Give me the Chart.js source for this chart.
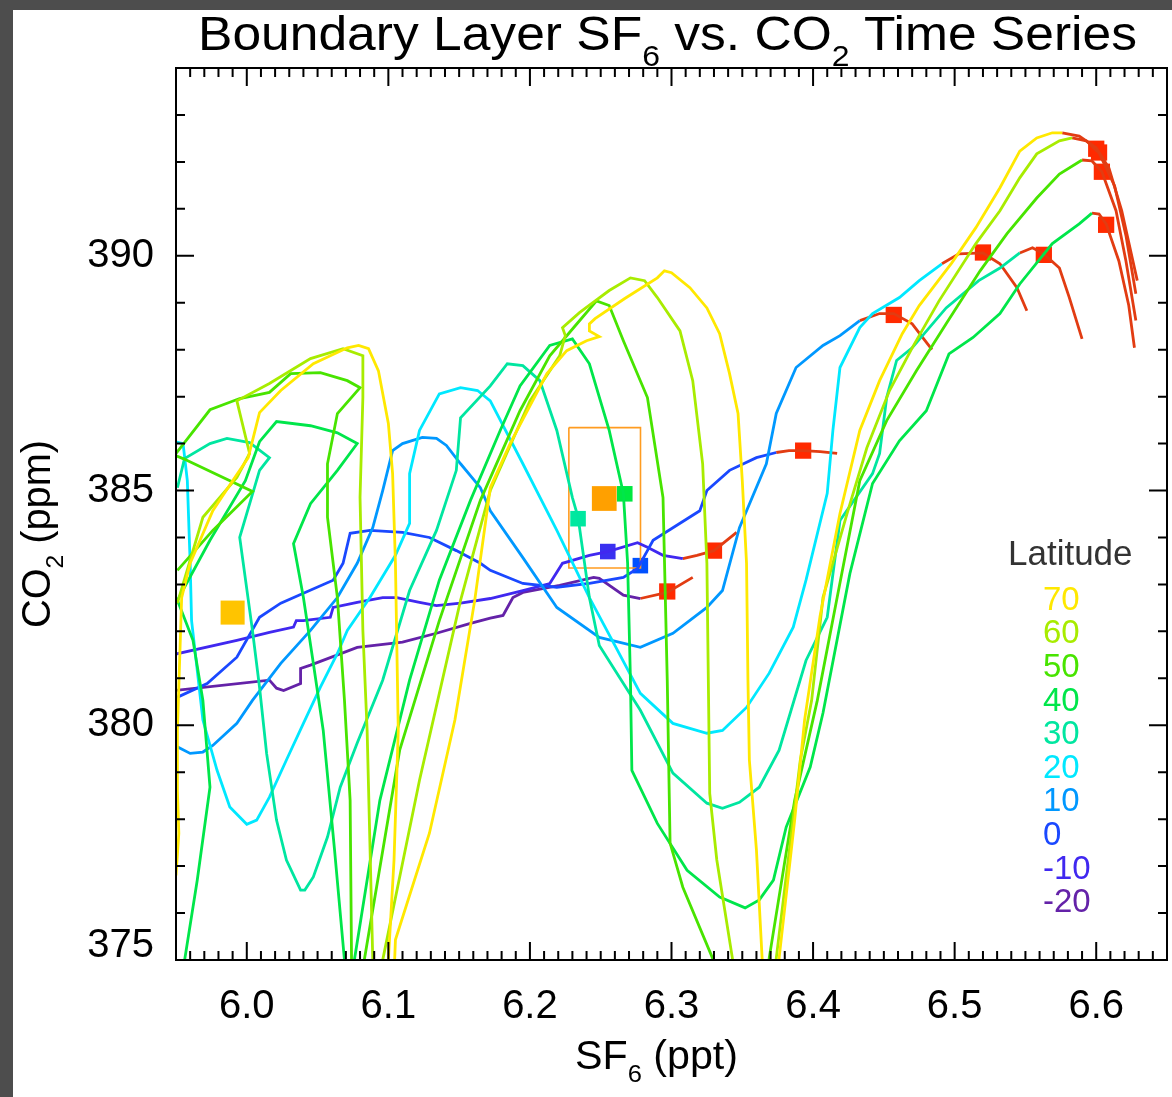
<!DOCTYPE html>
<html>
<head>
<meta charset="utf-8">
<script src="https://cdn.jsdelivr.net/npm/chart.js@4.4.1/dist/chart.umd.min.js"></script>
<style>
  html, body { margin: 0; padding: 0; background: #fff; overflow: hidden; }
  #caja { width: 1172px; height: 1097px; }
  canvas { display: block; }
</style>
</head>
<body>
<div id="caja"><canvas id="grafica" width="1172" height="1097"></canvas></div>
<script>
// ejes
const xTicks = [6.0, 6.1, 6.2, 6.3, 6.4, 6.5, 6.6];
const yTicks = [375, 380, 385, 390];
const latLabels = ['70', '60', '50', '40', '30', '20', '10', '0', '-10', '-20'];
const latColors = ['#ffe800', '#a8ec00', '#48e400', '#00e64a', '#00e6a0', '#00e8ff', '#0098ff', '#1a48ff', '#4028f0', '#6422a8'];

// series SF6 (ppt), CO2 (ppm) por latitud
const lat70 = [[5.950,376.8],[5.952,377.7],[5.951,378.6],[5.951,379.89],[5.954,382.72],[5.960,383.45],[5.976,384.57],[5.990,385.21],[6.001,385.70],[6.009,386.66],[6.024,387.13],[6.047,387.70],[6.071,388.04],[6.079,388.09],[6.086,388.02],[6.093,387.55],[6.100,386.43],[6.103,385.36],[6.105,383.45],[6.107,379.89],[6.104,377.13],[6.100,375.00],[6.100,373.9],[6.103,373.9],[6.105,375.43],[6.129,377.70],[6.147,380.11],[6.161,382.66],[6.172,385.06],[6.186,386.00],[6.212,387.49],[6.226,387.98],[6.240,388.19],[6.249,388.28],[6.242,388.40],[6.242,388.55],[6.246,388.66],[6.267,389.09],[6.290,389.53],[6.295,389.68],[6.300,389.64],[6.313,389.32],[6.325,388.89],[6.334,388.34],[6.341,387.49],[6.347,386.64],[6.350,385.21],[6.353,383.45],[6.354,380.96],[6.355,379.26],[6.360,377.34],[6.364,375.04],[6.367,373.9],[6.374,373.9],[6.376,375.04],[6.387,377.98],[6.394,380.11],[6.405,382.34],[6.419,384.51],[6.433,386.28],[6.447,387.34],[6.463,388.34],[6.475,388.94],[6.498,389.85],[6.515,390.60],[6.532,391.45],[6.546,392.23],[6.558,392.51],[6.569,392.62],[6.576,392.62]];
const lat70End = [[6.576,392.62],[6.588,392.55],[6.600,392.30],[6.609,391.87],[6.618,390.96],[6.629,389.47]];

const lat60 = [[5.951,382.60],[5.969,384.43],[5.993,385.28],[6.002,385.79],[5.993,386.91],[6.016,387.28],[6.045,387.81],[6.068,388.02],[6.082,387.87],[6.082,386.98],[6.080,384.85],[6.082,382.02],[6.085,379.89],[6.089,375.0],[6.089,373.9],[6.094,373.9],[6.096,375.0],[6.122,378.83],[6.151,382.66],[6.172,385.0],[6.200,386.91],[6.221,387.87],[6.225,388.30],[6.223,388.47],[6.235,388.79],[6.256,389.26],[6.271,389.53],[6.281,389.47],[6.290,389.11],[6.306,388.40],[6.315,387.34],[6.322,385.57],[6.325,383.45],[6.327,378.55],[6.332,377.13],[6.343,375.04],[6.346,373.9],[6.371,373.9],[6.374,375.04],[6.391,379.26],[6.399,380.53],[6.407,382.72],[6.424,384.51],[6.438,385.91],[6.454,387.13],[6.470,388.04],[6.489,389.04],[6.515,390.26],[6.532,390.96],[6.546,391.66],[6.558,392.17],[6.574,392.45],[6.583,392.51]];
const lat60End = [[6.583,392.51],[6.593,392.45],[6.602,392.19],[6.613,391.49],[6.621,390.43],[6.628,389.19]];

const lat50 = [[5.951,383.30],[5.976,384.15],[6.004,384.98],[5.955,385.68],[5.949,385.75],[5.974,386.72],[5.995,386.96],[6.016,387.09],[6.031,387.49],[6.052,387.51],[6.071,387.34],[6.080,387.19],[6.064,386.64],[6.057,385.57],[6.057,384.43],[6.064,382.72],[6.069,380.53],[6.073,378.40],[6.074,375.0],[6.075,373.9],[6.080,373.9],[6.083,375.0],[6.108,379.47],[6.136,382.23],[6.165,384.79],[6.193,386.70],[6.214,387.87],[6.232,388.51],[6.247,389.04],[6.256,388.94],[6.266,388.19],[6.283,386.98],[6.294,384.85],[6.297,380.96],[6.299,377.49],[6.308,376.55],[6.329,375.04],[6.334,373.9],[6.365,373.9],[6.369,375.04],[6.387,378.40],[6.403,380.53],[6.417,382.72],[6.433,385.21],[6.452,386.49],[6.473,387.55],[6.494,388.55],[6.518,389.68],[6.537,390.47],[6.558,391.23],[6.574,391.74],[6.590,392.04]];
const lat50End = [[6.590,392.04],[6.597,392.02],[6.604,391.79],[6.614,390.96],[6.621,389.89],[6.628,388.62]];

const lat40 = [[5.954,374.6],[5.965,376.70],[5.974,378.68],[5.969,380.53],[5.962,381.81],[5.951,382.66],[5.974,383.94],[5.999,385.21],[6.009,386.04],[6.021,386.47],[6.045,386.38],[6.064,386.23],[6.078,386.00],[6.064,385.43],[6.045,384.72],[6.033,383.87],[6.040,382.72],[6.047,381.32],[6.054,379.89],[6.062,377.34],[6.069,375.0],[6.071,373.9],[6.074,373.9],[6.076,375.0],[6.094,378.40],[6.115,380.96],[6.136,383.09],[6.158,384.79],[6.179,386.28],[6.193,387.23],[6.214,388.09],[6.230,388.23],[6.242,387.70],[6.256,386.28],[6.266,384.94],[6.269,383.45],[6.271,380.96],[6.272,379.04],[6.290,377.91],[6.311,376.91],[6.334,376.34],[6.352,376.11],[6.362,376.28],[6.372,376.70],[6.381,377.83],[6.398,379.11],[6.407,380.26],[6.426,383.23],[6.442,385.15],[6.461,386.06],[6.480,386.70],[6.496,387.91],[6.513,388.26],[6.532,388.77],[6.546,389.40],[6.569,390.26],[6.588,390.68],[6.597,390.91]];
const lat40End = [[6.597,390.91],[6.602,390.89],[6.607,390.68],[6.616,389.89],[6.623,388.94],[6.627,388.04]];

const lat30 = [[5.951,385.06],[5.956,385.68],[5.974,386.00],[5.986,386.11],[6.002,386.02],[6.016,385.70],[6.009,385.43],[5.995,384.00],[6.004,382.02],[6.009,380.81],[6.014,379.40],[6.021,377.98],[6.028,377.13],[6.038,376.49],[6.041,376.49],[6.047,376.77],[6.057,377.62],[6.066,378.68],[6.078,379.62],[6.096,380.96],[6.115,382.87],[6.134,384.15],[6.148,385.43],[6.151,386.55],[6.172,387.23],[6.184,387.70],[6.195,387.66],[6.207,387.34],[6.219,386.28],[6.230,384.85],[6.234,384.43],[6.242,382.72],[6.249,381.70],[6.278,380.32],[6.301,378.98],[6.325,378.34],[6.336,378.23],[6.348,378.36],[6.362,378.68],[6.376,379.47],[6.395,381.38],[6.410,382.30],[6.419,384.36],[6.442,385.36],[6.447,385.79],[6.452,386.98],[6.459,387.77],[6.470,388.04],[6.494,388.89],[6.517,389.47],[6.532,389.74],[6.546,390.06]];
const lat30End = [[6.546,390.06],[6.555,390.17],[6.563,390.04],[6.574,389.74],[6.581,389.11],[6.590,388.23]];

const lat20 = [[5.949,386.04],[5.955,386.00],[5.958,385.21],[5.960,383.45],[5.961,382.23],[5.965,381.17],[5.969,380.11],[5.979,379.04],[5.988,378.26],[6.000,377.89],[6.007,377.98],[6.016,378.47],[6.028,379.26],[6.040,380.04],[6.052,380.81],[6.064,381.53],[6.071,382.02],[6.087,382.72],[6.105,383.62],[6.115,384.30],[6.115,385.36],[6.122,386.28],[6.136,387.06],[6.151,387.19],[6.163,387.13],[6.172,386.91],[6.195,385.57],[6.219,384.15],[6.242,382.72],[6.260,381.70],[6.278,380.68],[6.301,380.04],[6.325,379.83],[6.336,379.89],[6.353,380.38],[6.369,381.11],[6.386,382.09],[6.395,383.09],[6.410,384.94],[6.414,386.28],[6.419,387.62],[6.433,388.47],[6.442,388.77],[6.461,389.11],[6.475,389.47],[6.491,389.83]];
const lat20End = [[6.491,389.83],[6.503,390.04],[6.520,390.06],[6.532,389.83],[6.544,389.32],[6.551,388.83]];

const lat10 = [[5.949,379.57],[5.960,379.40],[5.969,379.43],[5.976,379.57],[5.993,380.04],[6.004,380.53],[6.024,381.32],[6.045,382.02],[6.064,382.72],[6.078,383.45],[6.089,384.21],[6.096,385.00],[6.103,385.85],[6.110,386.00],[6.124,386.13],[6.134,386.11],[6.141,385.96],[6.151,385.57],[6.165,385.06],[6.172,384.57],[6.195,383.57],[6.219,382.51],[6.249,381.87],[6.278,381.66],[6.301,381.96],[6.325,382.51],[6.336,382.87],[6.348,384.21],[6.367,385.57],[6.374,386.64],[6.388,387.62],[6.407,388.09],[6.419,388.30],[6.433,388.62]];
const lat10End = [[6.433,388.62],[6.447,388.77],[6.457,388.77],[6.470,388.55],[6.484,388.00]];

const lat0 = [[5.949,380.57],[5.972,380.89],[5.993,381.45],[6.009,382.30],[6.024,382.60],[6.040,382.81],[6.061,383.09],[6.068,383.45],[6.073,384.09],[6.087,384.15],[6.110,384.11],[6.129,384.00],[6.148,383.72],[6.165,383.45],[6.172,383.30],[6.195,383.02],[6.219,382.94],[6.242,383.02],[6.266,383.15],[6.276,383.34],[6.283,383.72],[6.287,383.94],[6.320,384.57],[6.325,385.00],[6.341,385.43],[6.360,385.70],[6.374,385.81]];
const lat0End = [[6.374,385.81],[6.383,385.85],[6.393,385.85],[6.405,385.83],[6.417,385.79]];

const latM10 = [[5.949,381.51],[5.993,381.81],[6.016,381.98],[6.033,382.09],[6.035,382.23],[6.040,382.23],[6.059,382.30],[6.061,382.51],[6.078,382.62],[6.096,382.72],[6.106,382.72],[6.122,382.62],[6.134,382.55],[6.151,382.60],[6.172,382.70],[6.195,382.87],[6.214,383.02],[6.223,383.45],[6.242,383.62],[6.255,383.70],[6.276,383.89],[6.283,383.79],[6.294,383.62],[6.308,383.55]];
const latM10End = [[6.308,383.55],[6.318,383.62],[6.330,383.72],[6.346,384.11]];

const latM20 = [[5.949,380.74],[6.016,380.96],[6.021,380.79],[6.026,380.74],[6.038,380.89],[6.038,381.21],[6.045,381.28],[6.078,381.66],[6.110,381.77],[6.134,381.96],[6.158,382.17],[6.172,382.28],[6.181,382.34],[6.188,382.72],[6.195,382.83],[6.221,382.98],[6.245,383.15],[6.249,383.13],[6.266,382.77],[6.278,382.70]];
const latM20End = [[6.278,382.70],[6.297,382.83],[6.315,383.15]];

// marcadores
const endSquares = [[6.600,392.28],[6.602,392.20],[6.604,391.79],[6.607,390.66],[6.563,390.02],[6.520,390.07],[6.457,388.74],[6.393,385.85],[6.330,383.72],[6.297,382.85]];
const boxSquares = [[6.234,384.40],[6.267,384.93],[6.255,383.70],[6.278,383.40]];
const boxSquareColors = ['#00e8a0', '#00e840', '#3a30f0', '#0050ff'];
const meanSquare = [[6.2525,384.83]];
const bigSquare = [[5.990,382.40]];
const boxCorners = [[6.2275,386.34],[6.2781,386.34],[6.2781,383.35],[6.2275,383.35],[6.2275,386.34]];

const curves = [lat70, lat60, lat50, lat40, lat30, lat20, lat10, lat0, latM10, latM20];
const curveEnds = [lat70End, lat60End, lat50End, lat40End, lat30End, lat20End, lat10End, lat0End, latM10End, latM20End];

const FONT = '"Liberation Sans", Arial, Helvetica, sans-serif';
const pts = arr => arr.map(p => ({ x: p[0], y: p[1] }));

let datasets = [];
curves.forEach((c, i) => {
  datasets.push({ data: pts(c), borderColor: latColors[i], borderWidth: 2.8, pointRadius: 0, showLine: true, tension: 0 });
});
curveEnds.forEach(c => {
  datasets.push({ data: pts(c), borderColor: '#e23c12', borderWidth: 2.8, pointRadius: 0, showLine: true, tension: 0 });
});
datasets.push({ data: pts(boxCorners), borderColor: '#ff9c20', borderWidth: 1.6, pointRadius: 0, showLine: true, tension: 0 });
datasets.push({ data: pts(boxSquares), pointStyle: 'rect', pointRadius: 11, backgroundColor: boxSquareColors, borderWidth: 0, showLine: false });
datasets.push({ data: pts(meanSquare), pointStyle: 'rect', pointRadius: 17.5, backgroundColor: '#ffa000', borderWidth: 0, showLine: false });
datasets.push({ data: pts(bigSquare), pointStyle: 'rect', pointRadius: 17, backgroundColor: '#ffc400', borderWidth: 0, showLine: false });
datasets.push({ data: pts(endSquares), pointStyle: 'rect', pointRadius: 11.5, backgroundColor: '#ff2a00', borderWidth: 0, showLine: false });

// texto con subindices
function richText(ctx, parts, x, y, size, width, rot) {
  const sub = size * 0.62, drop = size * 0.33;
  let w = 0;
  parts.forEach(p => { ctx.font = (p[1] ? sub : size) + 'px ' + FONT; w += ctx.measureText(p[0]).width; });
  const sx = width ? width / w : 1;
  ctx.save();
  ctx.translate(x, y);
  if (rot) ctx.rotate(rot);
  ctx.scale(sx, 1);
  ctx.textBaseline = 'alphabetic';
  ctx.textAlign = 'left';
  let cx = 0;
  parts.forEach(p => {
    ctx.font = (p[1] ? sub : size) + 'px ' + FONT;
    ctx.fillText(p[0], cx, p[1] ? drop : 0);
    cx += ctx.measureText(p[0]).width;
  });
  ctx.restore();
}

const decor = {
  id: 'decor',
  afterLayout(chart) {
    // el area del grafico llega hasta x = 1167
    const a = chart.chartArea, xs = chart.scales.x;
    const right = chart.width - 5;
    a.right = right;
    a.width = right - a.left;
    xs.right = right;
    xs.width = right - xs.left;
    xs.configure();
  },
  beforeDraw(chart) {
    const c = chart.ctx;
    c.save();
    c.fillStyle = '#ffffff';
    c.fillRect(0, 0, chart.width, chart.height);
    c.fillStyle = '#4d4d4d';
    c.fillRect(0, 0, 13, chart.height);
    c.fillRect(0, 0, chart.width, 10);
    c.restore();
  },
  afterDraw(chart) {
    const c = chart.ctx, a = chart.chartArea, xs = chart.scales.x, ys = chart.scales.y;
    c.save();
    c.strokeStyle = '#000';
    c.lineWidth = 2;
    c.strokeRect(a.left, a.top, a.right - a.left, a.bottom - a.top);
    c.beginPath();
    for (let i = 0; i <= 70; i++) {
      const v = 5.95 + i * 0.01;
      const px = xs.getPixelForValue(v);
      const len = (i % 10 === 5) ? 18 : 9;
      c.moveTo(px, a.bottom); c.lineTo(px, a.bottom - len);
      c.moveTo(px, a.top); c.lineTo(px, a.top + len);
    }
    for (let v = 375; v <= 394; v++) {
      const py = ys.getPixelForValue(v);
      const len = (v % 5 === 0) ? 18 : 9;
      c.moveTo(a.left, py); c.lineTo(a.left + len, py);
      c.moveTo(a.right, py); c.lineTo(a.right - len, py);
    }
    c.stroke();

    c.fillStyle = '#000';
    richText(c, [['Boundary Layer SF', 0], ['6', 1], [' vs. CO', 0], ['2', 1], [' Time Series', 0]], 198, 50, 49, 939);
    richText(c, [['SF', 0], ['6', 1], [' (ppt)', 0]], 575, 1069, 40, 163);
    richText(c, [['CO', 0], ['2', 1], [' (ppm)', 0]], 50, 628, 40, 188, -Math.PI / 2);

    c.fillStyle = '#333';
    c.font = '35px ' + FONT;
    c.textBaseline = 'alphabetic';
    c.fillText('Latitude', 1008, 565);
    c.font = '33px ' + FONT;
    latLabels.forEach((t, i) => {
      c.fillStyle = latColors[i];
      c.fillText(t, 1043, 598 + i * 33.6 + 11.8);
    });
    c.restore();
  }
};

let grafica = document.getElementById('grafica').getContext('2d');
let chart = new Chart(grafica, {
  type: 'scatter',
  data: { datasets: datasets },
  options: {
    responsive: false,
    animation: false,
    devicePixelRatio: 1,
    layout: { padding: { left: 0, right: 5, top: 68, bottom: 0 } },
    plugins: { legend: { display: false }, tooltip: { enabled: false } },
    scales: {
      x: {
        type: 'linear', min: 5.95, max: 6.65,
        grid: { display: false, drawTicks: false },
        border: { display: false },
        afterBuildTicks: s => { s.ticks = xTicks.map(v => ({ value: v })); },
        afterFit: s => { s.height = 137; s.paddingLeft = 0; s.paddingRight = 0; },
        ticks: { font: { family: FONT, size: 40 }, color: '#000', padding: 23, maxRotation: 0, autoSkip: false, callback: v => v.toFixed(1) }
      },
      y: {
        type: 'linear', min: 375, max: 394,
        grid: { display: false, drawTicks: false },
        border: { display: false },
        afterBuildTicks: s => { s.ticks = yTicks.map(v => ({ value: v })); },
        afterFit: s => { s.width = 176; s.paddingTop = 0; s.paddingBottom = 0; },
        ticks: {
          font: c => ({ family: FONT, size: 40, lineHeight: (c.tick && c.tick.value === 375) ? 0.7 : 1.2 }),
          color: '#000', padding: 22, autoSkip: false,
          callback: v => v === 375 ? ['375', ''] : String(v)
        }
      }
    }
  },
  plugins: [decor]
});
</script>
</body>
</html>
